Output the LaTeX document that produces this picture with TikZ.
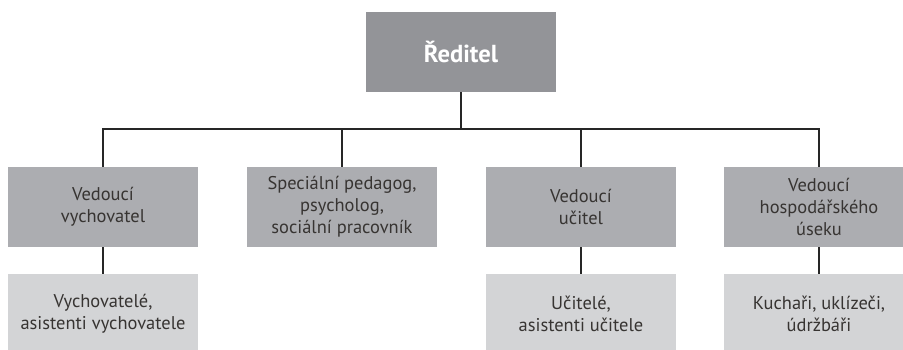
\documentclass[tikz,border=0pt]{standalone}
\usepackage{fontspec}
\setmainfont{PT Sans}
\definecolor{headgray}{RGB}{147,148,152}
\definecolor{midgray}{RGB}{172,173,177}
\definecolor{lowgray}{RGB}{211,212,214}
\definecolor{textgray}{RGB}{55,52,50}

\begin{document}
\begin{tikzpicture}[x=0.02cm, y=-0.02cm,
   box/.style={rectangle, minimum width=3.8cm, minimum height=1.6cm, inner sep=0pt,
     align=center, text=textgray, font=\fontsize{10.5}{12.6}\selectfont},
   link/.style={draw=black!85, line width=0.8pt}]

   \clip (0,0) rectangle (903,349);
   \fill[white] (0,0) rectangle (903,349);

   \node [box, fill=headgray, text=white, font=\bfseries\fontsize{14}{16}\selectfont]
      (vR) at (461,52) {Ředitel};

   \foreach \x/\t/\s in {103/A/{Vedoucí\\vychovatel}, 342/B/{Speciální pedagog,\\psycholog,\\sociální pracovník},
                         581/C/{Vedoucí\\učitel}, 819/D/{Vedoucí\\hospodářského\\úseku}}
     \node [box, fill=midgray] (v\t) at (\x,207) {\s};

   \foreach \x/\t/\s in {103/A/{Vychovatelé,\\asistenti vychovatele}, 581/C/{Učitelé,\\asistenti učitele},
                         819/D/{Kuchaři, uklízeči,\\údržbáři}}
     \node [box, fill=lowgray] (w\t) at (\x,314) {\s};

   \coordinate (bus) at (461,129);

   \foreach \t in {A,B,C,D}
    \draw[link] (vR.south) |- (bus -| v\t.north) -- (v\t.north);

   \foreach \t in {A,C,D}
    \draw[link] (v\t) -- (w\t);
\end{tikzpicture}
\end{document}
